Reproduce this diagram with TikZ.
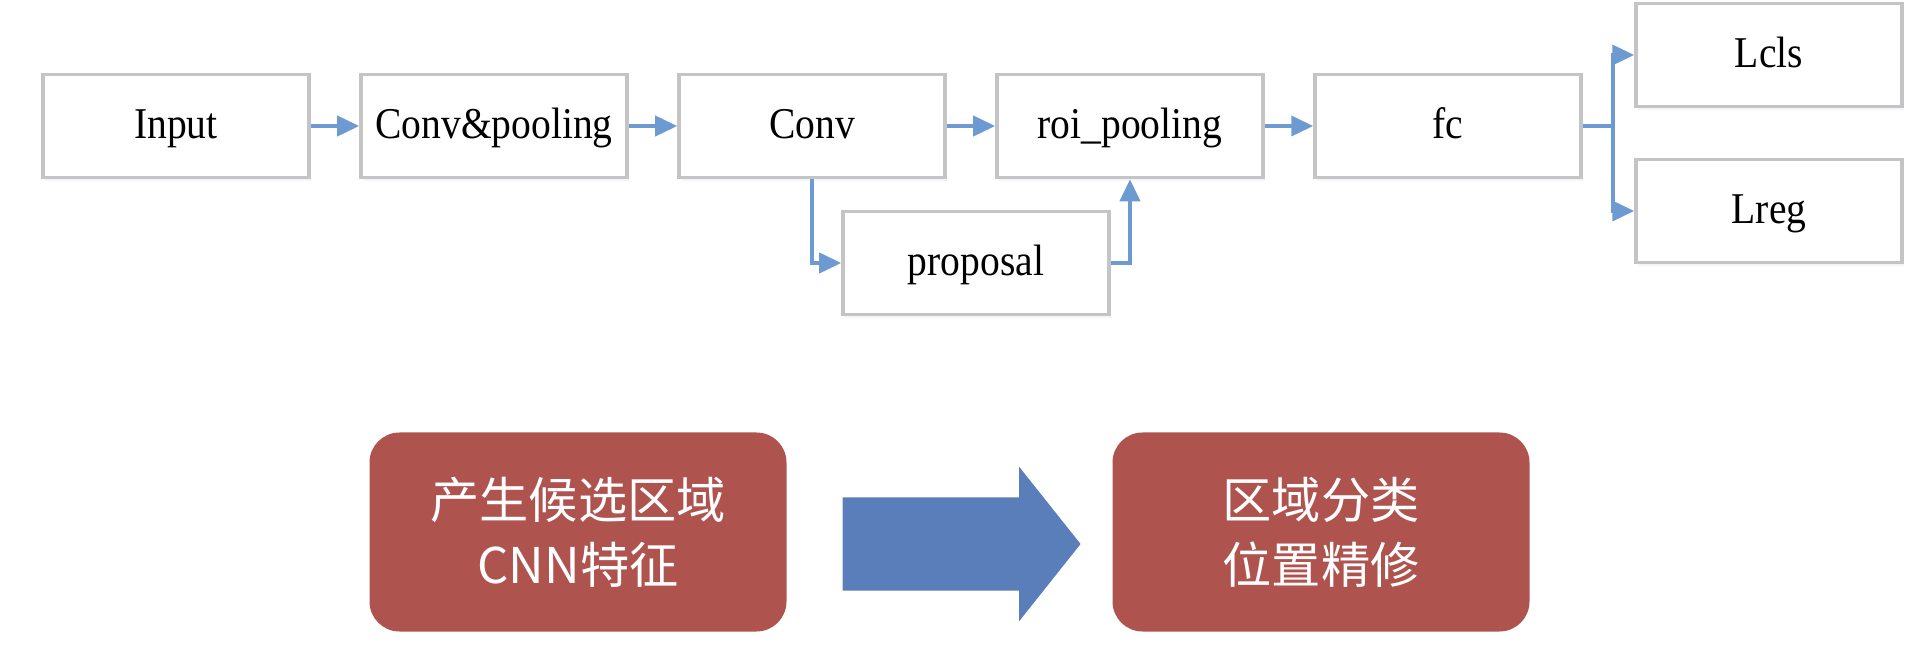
\documentclass[tikz,border=0pt]{standalone}
\usepackage{fontspec}
\setmainfont{Liberation Serif}[FakeStretch=0.9]
\newfontfamily\cjk{Noto Sans CJK SC}
\usetikzlibrary{arrows.meta,shapes.arrows,shadows}
\definecolor{boxgray}{HTML}{C4C4C4}
\definecolor{linkblue}{HTML}{6D9BD1}
\definecolor{stagered}{HTML}{AF534F}
\definecolor{bigblue}{HTML}{5A7EB9}
\begin{document}
\begin{tikzpicture}[node distance=3.18cm,
		layer/.style={rectangle,draw=boxgray,line width=1pt,fill=white,
			minimum width=2.66cm,minimum height=1.03cm,font=\fontsize{12.5}{14}\selectfont,
			text height=1.9ex,text depth=0.4ex,
			drop shadow={shadow xshift=0.02cm,shadow yshift=-0.04cm,fill=linkblue!15,opacity=0.6}},
		link/.style={-{Triangle[length=0.22cm,width=0.2cm]},draw=linkblue,line width=1.1pt},
		stage/.style={rectangle,rounded corners=0.3cm,fill=stagered,text=white,
			minimum width=4.17cm,minimum height=1.99cm,align=center,
			font=\cjk\fontsize{14}{18.5}\selectfont}]
		\useasboundingbox (0,0) rectangle (19.13,6.52);
		\node[layer] (in) at (1.76,5.26) {Input};
		\node[layer] (cp) [right of=in] {Conv\&pooling};
		\node[layer] (conv) [right of=cp] {Conv};
		\node[layer] (roi) [right of=conv] {roi\_pooling};
		\node[layer] (fc) [right of=roi] {fc};
		\node[layer] (lcls) at (17.69,5.97) {Lcls};
		\node[layer] (lreg) at (17.69,4.41) {Lreg};
		\node[layer] (prop) at (9.76,3.89) {proposal};

		% connection
		\draw [link] (in) -- (cp);
		\draw [link] (cp) -- (conv);
		\draw [link] (conv) -- (roi);
		\draw [link] (roi) -- (fc);
		\draw [link] (conv.south) |- (prop.west);
		\draw [link] (prop.east) -| (roi.south);
		\draw [link] (fc.east) -- ++(0.3,0) |- (lcls.west);
		\draw [link] (fc.east) -- ++(0.3,0) |- (lreg.west);

		% two stages
		\node[stage] (gen) at (5.78,1.20) {产生候选区域\\CNN特征};
		\node[stage] (cls) at (13.21,1.20) {区域分类\\位置精修};
		\node[single arrow,fill=bigblue,minimum height=2.38cm,minimum width=1.53cm,
			single arrow head extend=0.305cm,single arrow tip angle=103,
			inner xsep=0pt,inner ysep=0.46cm] (step) at (9.43,1.08) {};
	\end{tikzpicture}
\end{document}
